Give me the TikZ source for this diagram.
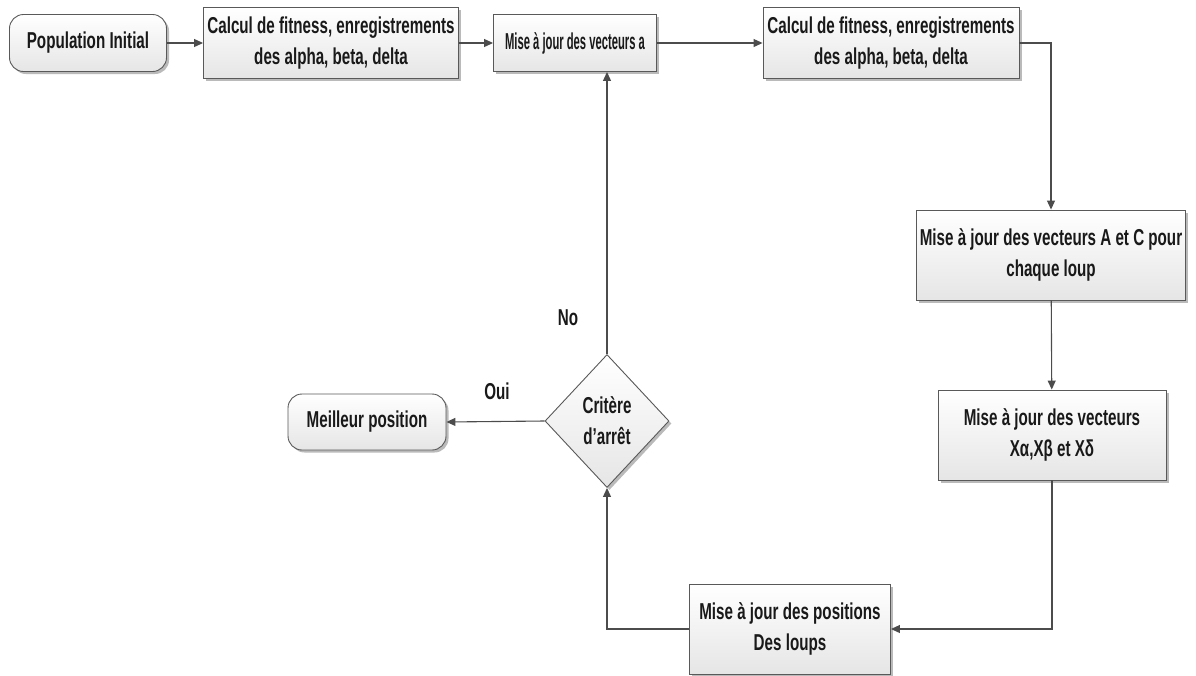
\documentclass[tikz,border=0pt]{standalone}
\usepackage{fontspec}
\setmainfont[FakeStretch=0.66]{Liberation Sans}
\usetikzlibrary{shapes.geometric,shadows,arrows.meta}
\begin{document}
\begin{tikzpicture}[x=1pt,y=-1pt,
  every node/.style={font=\bfseries\fontsize{23}{31}\selectfont, align=center, text=black!90},
  proc/.style={draw=black!65, line width=0.9pt, top color=white, bottom color=black!10,
    drop shadow={shadow xshift=2.5pt, shadow yshift=-2.5pt, fill=black!45, opacity=0.6},
    inner sep=0pt},
  term/.style={proc, rounded corners=14pt},
  decide/.style={proc, diamond, minimum width=124pt, minimum height=133pt},
  link/.style={draw=black!70, line width=1.1pt, -{Triangle[length=9pt,width=8pt]}}
]
\useasboundingbox (0,0) rectangle (1196,675);

% process steps
\node[term, minimum width=157pt, minimum height=57pt] (init) at (88,43) {Population Initial};
\node[proc, minimum width=255pt, minimum height=71pt] (fit1) at (331,43) {Calcul de fitness, enregistrements\\des alpha, beta, delta};
\node[proc, minimum width=163pt, minimum height=57pt] (veca) at (575,43) {\scalebox{0.74}[1]{Mise à jour des vecteurs a}};
\node[proc, minimum width=256pt, minimum height=71pt] (fit2) at (891,43) {Calcul de fitness, enregistrements\\des alpha, beta, delta};
\node[proc, minimum width=269pt, minimum height=90pt] (vecAC) at (1051,255) {Mise à jour des vecteurs A et C pour\\chaque loup};
\node[proc, minimum width=228pt, minimum height=90pt] (vecX) at (1052,435) {Mise à jour des vecteurs\\Xα,Xβ et Xδ};
\node[proc, minimum width=201pt, minimum height=90pt] (pos) at (790,629) {Mise à jour des positions\\Des loups};
\node[decide] (stop) at (607,421) {Critère\\d’arrêt};
\node[term, minimum width=158pt, minimum height=56pt] (best) at (367,422) {Meilleur position};

% connectors
\draw[link] (init) -- (fit1);
\draw[link] (fit1) -- (veca);
\draw[link] (veca) -- (fit2);
\draw[link] (fit2.east) -| (vecAC.north);
\draw[link] (vecAC) -- (vecX);
\draw[link] (vecX.south) |- (pos.east);
\draw[link] (pos.west) -| (stop.south);
\draw[link] (stop.west) -- (best.east);
\draw[link] (stop.north) -- (stop.north |- veca.south);

% branch labels
\node (no) at (568,318) {No};
\node (yes) at (497,391) {Oui};
\end{tikzpicture}
\end{document}
